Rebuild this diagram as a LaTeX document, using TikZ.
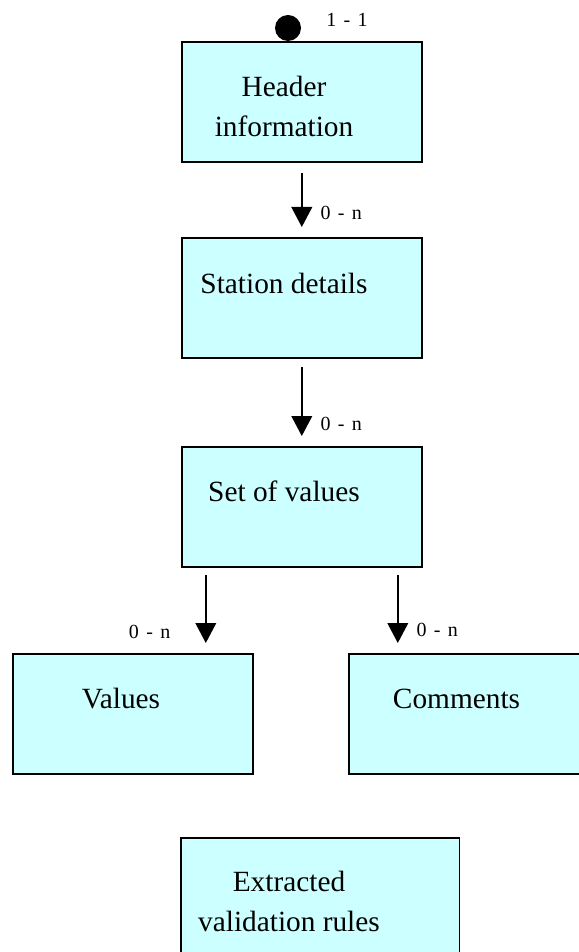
\documentclass[tikz,border=0pt]{standalone}
\usepackage{fontspec}
\setmainfont{Liberation Serif}
\usetikzlibrary{arrows.meta,calc}

\definecolor{boxcyan}{HTML}{CCFFFF}
\newcommand\mult[2]{#1\hspace{5.5pt}-\hspace{5.5pt}#2}

\tikzset{
    entity/.style={draw, line width=1.2pt, fill=boxcyan, rectangle, inner sep=0pt,
        minimum width=180pt, minimum height=90pt, anchor=north west},
    etext/.style={font=\fontsize{22}{30}\selectfont, align=center, inner sep=0pt, anchor=base},
    card/.style={font=\fontsize{15}{17}\selectfont, inner sep=0pt},
    link/.style={line width=1.3pt, -{Triangle[width=15.5pt,length=15pt]}},
}

\begin{document}
\begin{tikzpicture}[x=0.75pt, y=-0.75pt]
    \useasboundingbox (0,0) rectangle (578,952);

    % boxes
    \node[entity] (hdr) at (181,41) {};
    \node[entity] (stn) at (181,237) {};
    \node[entity] (set) at (181,446) {};
    \node[entity] (vals) at (12,653) {};
    \node[entity] (cmts) at (348,653) {};
    \node[entity, minimum width=209pt] (rules) at (180,837) {};

    % box texts (base = last line)
    \node[etext] (hdrtxt) at (284,136.7) {Header\\information};
    \node[etext] (stntxt) at (284,293) {Station details};
    \node[etext] (settxt) at (284,501.7) {Set of values};
    \node[etext] (valstxt) at (121,708) {Values};
    \node[etext] (cmtstxt) at (456.5,708) {Comments};
    \node[etext] (rulestxt) at (289,931.7) {Extracted\\validation rules};

    % start point
    \node[circle, fill=black, inner sep=0pt, minimum size=19.5pt] (root) at (288,28) {};
    \node[card] (rootcard) at (347,20) {\mult{1}{1}};

    % links
    \draw[link] ($(hdr.south)+(0,10)$) -- ($(stn.north)+(0,-10)$)
        node[card, pos=0.75, anchor=west, xshift=13.5pt] {\mult{0}{n}};
    \draw[link] ($(stn.south)+(0,8)$) -- ($(set.north)+(0,-10)$)
        node[card, pos=0.82, anchor=west, xshift=13.5pt] {\mult{0}{n}};

    \coordinate (splitL) at ($(set.south)+(-96,7)$);
    \coordinate (splitR) at ($(set.south)+(96,7)$);
    \draw[link] (splitL) -- ($(splitL |- vals.north)+(0,-10)$)
        node[card, pos=0.84, anchor=east, xshift=-26pt] {\mult{0}{n}};
    \draw[link] (splitR) -- ($(splitR |- cmts.north)+(0,-10)$)
        node[card, pos=0.81, anchor=west, xshift=13.5pt] {\mult{0}{n}};
\end{tikzpicture}
\end{document}
